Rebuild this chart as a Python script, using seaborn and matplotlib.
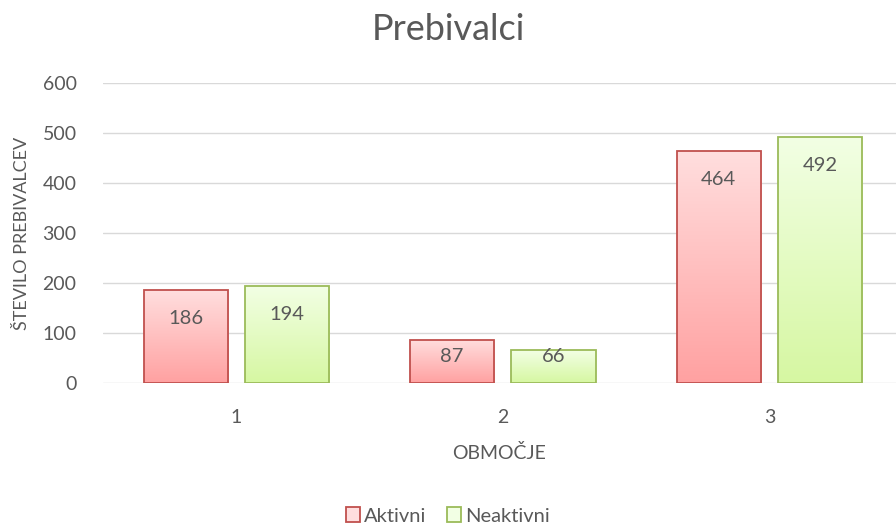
import numpy as np
import pandas as pd
import matplotlib
matplotlib.use("Agg")
import matplotlib.pyplot as plt
import matplotlib.colors as mcolors
import seaborn as sns

# data
areas = ["1", "2", "3"]
aktivni = [186, 87, 464]
neaktivni = [194, 66, 492]
series_names = ["Aktivni", "Neaktivni"]

df = pd.DataFrame({
    "Območje": areas * 2,
    "Število": aktivni + neaktivni,
    "Skupina": [series_names[0]] * 3 + [series_names[1]] * 3,
})

edge_cols = {"Aktivni": "#C0504D", "Neaktivni": "#9BBB59"}
grad_cols = {"Aktivni": ("#FFDEDE", "#FFA1A1"),
             "Neaktivni": ("#F2FFE4", "#D6F7A2")}
text_col = "#595959"

sns.set_theme(style="white")
plt.rcParams["font.family"] = ["Lato", "DejaVu Sans"]

fig = plt.figure(figsize=(8.96, 5.28), dpi=100)
ax = fig.add_axes([103 / 896, 1 - 383 / 528, 1 - 103 / 896, 300 / 528])

sns.barplot(data=df, x="Območje", y="Število", hue="Skupina",
            palette=[grad_cols[s][1] for s in series_names],
            width=0.76, gap=0.17, ax=ax, legend=False)

ax.set_xlim(-0.5, 2.475)
ax.set_ylim(0, 600)
ax.set_yticks(range(0, 601, 100))
ax.grid(axis="y", color="#D9D9D9", linewidth=1)
ax.set_axisbelow(True)
for s in ax.spines.values():
    s.set_visible(False)
ax.tick_params(axis="both", length=0, colors=text_col, labelsize=14)
ax.tick_params(axis="x", pad=19)
ax.tick_params(axis="y", pad=19)

# gradient fills clipped to each bar
for container, name in zip(ax.containers, series_names):
    top, bot = grad_cols[name]
    cmap = mcolors.LinearSegmentedColormap.from_list(name, [bot, top])
    grad = np.linspace(0, 1, 256).reshape(-1, 1)
    for bar in container:
        x0, y0 = bar.get_x(), bar.get_y()
        w, h = bar.get_width(), bar.get_height()
        bar.set_facecolor("none")
        bar.set_edgecolor(edge_cols[name])
        bar.set_linewidth(1.3)
        bar.set_zorder(3)
        im = ax.imshow(grad, cmap=cmap, aspect="auto", origin="lower",
                       extent=(x0, x0 + w, y0, y0 + h), zorder=2)
        im.set_clip_path(bar)
        ax.text(x0 + w / 2, max(h - 57, 52), f"{int(h)}", ha="center",
                va="center", fontsize=14.5, color=text_col, zorder=4)
ax.set_xlim(-0.5, 2.475)
ax.set_ylim(0, 600)

ax.set_xlabel("OBMOČJE", color=text_col, fontsize=14, labelpad=13)
ax.set_ylabel("ŠTEVILO PREBIVALCEV", color=text_col, fontsize=13,
              labelpad=9)
fig.text(0.5, 1 - 30 / 528, "Prebivalci", ha="center", va="center",
         fontsize=26, color=text_col)

handles = [plt.Rectangle((0, 0), 1, 1, facecolor=grad_cols[s][0],
                         edgecolor=edge_cols[s], linewidth=1.3)
           for s in series_names]
fig.legend(handles, series_names, loc="center", ncol=2,
           bbox_to_anchor=(0.5, 1 - 516 / 528), frameon=False,
           fontsize=14.5, labelcolor=text_col, handlelength=0.7,
           handleheight=0.7, handletextpad=0.2, columnspacing=1.0,
           borderpad=0.2)

fig.savefig("out.png", dpi=100)
